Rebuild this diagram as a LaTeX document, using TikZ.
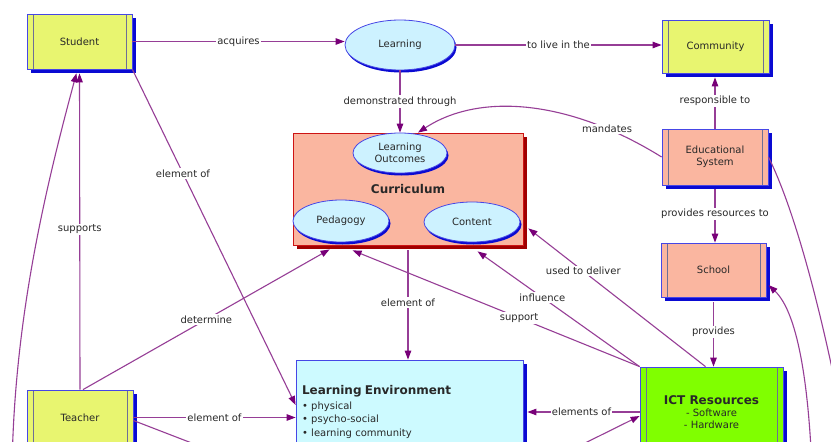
\documentclass[tikz,border=0pt]{standalone}
\usepackage{fontspec}
\setmainfont{DejaVu Sans}
\usetikzlibrary{arrows.meta,shapes.geometric,shadows,calc}
\definecolor{linkc}{RGB}{150,62,150}
\definecolor{tipc}{RGB}{120,0,120}
\definecolor{shblue}{RGB}{10,10,210}
\definecolor{edgeblue}{RGB}{70,70,230}
\definecolor{sideline}{RGB}{110,110,150}
\definecolor{yellowfill}{RGB}{232,245,112}
\definecolor{salmonfill}{RGB}{250,182,160}
\definecolor{cyanfill}{RGB}{205,242,255}
\definecolor{envfill}{RGB}{205,250,255}
\definecolor{greenfill}{RGB}{128,255,0}
\definecolor{curredge}{RGB}{205,20,20}
\definecolor{currshadow}{RGB}{160,0,0}
\definecolor{inkc}{RGB}{40,40,40}
\newcommand{\labfont}{\fontsize{10}{12}\selectfont}
\newcommand{\headfont}{\fontsize{12}{14}\selectfont\bfseries}
\begin{document}
\begin{tikzpicture}[x=1pt,y=-1pt,
  every node/.style={text=inkc},
  conceptbox/.style={rectangle, draw=edgeblue, line width=0.8pt, inner sep=0pt,
    align=center, font=\labfont,
    drop shadow={shadow xshift=4pt,shadow yshift=-4pt,fill=shblue,opacity=1},
    path picture={
      \draw[sideline,line width=0.8pt]
        ([xshift=6pt]path picture bounding box.north west) --
        ([xshift=6pt]path picture bounding box.south west);
      \draw[sideline,line width=0.8pt]
        ([xshift=-6pt]path picture bounding box.north east) --
        ([xshift=-6pt]path picture bounding box.south east);}},
  concept/.style={ellipse, draw=edgeblue, line width=0.8pt, fill=cyanfill,
    inner sep=0pt, align=center, font=\labfont,
    drop shadow={shadow xshift=1.5pt,shadow yshift=-2.5pt,fill=shblue,opacity=1}},
  link/.style={draw=linkc, line width=1.1pt,
    -{Triangle[length=9pt,width=6.5pt,color=tipc]}},
  plainlink/.style={draw=linkc, line width=1.1pt},
  lab/.style={fill=white, inner sep=1.2pt, font=\labfont}]

\useasboundingbox (0,0) rectangle (831,442);
\clip (0,0) rectangle (831,442);
\fill[white] (0,0) rectangle (831,442);

% concept boxes
\node[conceptbox, fill=yellowfill, minimum width=105pt, minimum height=55pt]
  (Student) at (79.5,41.5) {Student};
\node[conceptbox, fill=yellowfill, minimum width=107pt, minimum height=53pt]
  (Community) at (715.5,46.5) {Community};
\node[conceptbox, fill=salmonfill, minimum width=106pt, minimum height=56pt]
  (EdSys) at (715,157) {Educational\\System};
\node[conceptbox, fill=salmonfill, minimum width=105pt, minimum height=54pt]
  (School) at (713.5,270) {School};
\node[conceptbox, fill=yellowfill, minimum width=106pt, minimum height=55pt]
  (Teacher) at (80,417.5) {Teacher};
\node[conceptbox, fill=greenfill, minimum width=143pt, minimum height=90pt]
  (ICT) at (711.5,412) {{\headfont ICT Resources}\\- Software\\- Hardware};

% curriculum with its three parts
\node[rectangle, draw=curredge, line width=0.8pt, fill=salmonfill,
  minimum width=230pt, minimum height=112pt, inner sep=0pt, font=\headfont,
  drop shadow={shadow xshift=4pt,shadow yshift=-4pt,fill=currshadow,opacity=1}]
  (Curriculum) at (408,189) {Curriculum};
\node[concept, minimum width=94pt, minimum height=40pt] (LO) at (400,153) {Learning\\Outcomes};
\node[concept, minimum width=96pt, minimum height=42pt] (Pedagogy) at (341,221) {Pedagogy};
\node[concept, minimum width=96pt, minimum height=40pt] (Content) at (472,222) {Content};

\node[concept, minimum width=110pt, minimum height=50pt] (Learning) at (400,45) {Learning};

% learning environment
\node[rectangle, draw=edgeblue, line width=0.8pt, fill=envfill,
  text width=215pt, inner xsep=6pt, minimum height=104pt, align=left,
  font=\fontsize{10}{13.5}\selectfont,
  drop shadow={shadow xshift=4pt,shadow yshift=-4pt,fill=shblue,opacity=1}]
  (LE) at (409.5,412) {{\headfont Learning Environment}\\[1pt]
  • physical\\ • psycho-social\\ • learning community};

% ends of links that leave the page
\coordinate (leftFoot) at (12,470);
\coordinate (teachOut) at (215,452);
\coordinate (ictFeed) at (575,448);
\coordinate (edOut) at (850,460);
\coordinate (schFeed) at (812,470);

% links
\draw[link] (Student.east) -- (Student.east -| Learning.west)
  node[lab,pos=.5] {acquires};
\draw[link] (Learning.east) -- (Learning.east -| Community.west)
  node[lab,pos=.5] {to live in the};
\draw[link] (Learning.south) -- (LO.north)
  node[lab,pos=.5] {demonstrated through};
\draw[link,shorten >=4pt] (EdSys.north) -- (EdSys.north |- Community.south)
  node[lab,pos=.5] {responsible to};
\draw[link,shorten <=4pt] (EdSys.south) -- (EdSys.south |- School.north)
  node[lab,pos=.5] {provides resources to};
\draw[link,shorten <=5pt] (School.south) -- (School.south |- ICT.north)
  node[lab,pos=.5] {provides};
\draw[link] (EdSys.west) .. controls (570,100) and (480,92) .. ([xshift=10pt]Curriculum.north)
  node[lab,pos=.2] {mandates};
\draw[link,shorten <=5pt] (Curriculum.south) -- (Curriculum.south |- LE.north)
  node[lab,pos=.5] {element of};
\draw[link] (Student.south east) -- ([yshift=7pt]LE.west)
  node[lab,pos=.31] {element of};
\draw[link] (Teacher.east) -- (Teacher.east -| LE.west)
  node[lab,pos=.5] {element of};
\draw[link] ([xshift=3pt]Teacher.north) -- ($(Curriculum.south west)+(37,4)$)
  node[lab,pos=.5] {determine};
\draw[link] ([xshift=-6pt]ICT.north) -- ($(Curriculum.south east)+(5,-17)$)
  node[lab,pos=.69] {used to deliver};
\draw[link] (ICT.north west) -- ($(Curriculum.south west)+(185,6)$)
  node[lab,pos=.6] {influence};
\draw[link] (ICT.north west) -- ($(Curriculum.south west)+(60,5)$)
  node[lab,pos=.42] {support};
\draw[link,shorten >=4pt] (ICT.west) -- (ICT.west -| LE.east)
  node[lab,pos=.5] {elements of};
\draw[link] (ictFeed) -- ([yshift=-4pt]ICT.west);
\draw[plainlink] ([yshift=-3pt]Teacher.east) -- (teachOut);
\draw[link,shorten >=4pt] (leftFoot) .. controls (14,320) and (45,190) .. ([xshift=-2pt]Student.south);
\draw[link,shorten >=4pt] (Teacher.north) -- (Student.south)
  node[lab,pos=.5] {supports};
\draw[plainlink] (EdSys.east) .. controls (795,210) and (825,320) .. (edOut);
\draw[link,shorten >=3pt] (schFeed) .. controls (808,370) and (795,310) .. ([yshift=-13pt]School.east);

\end{tikzpicture}
\end{document}
